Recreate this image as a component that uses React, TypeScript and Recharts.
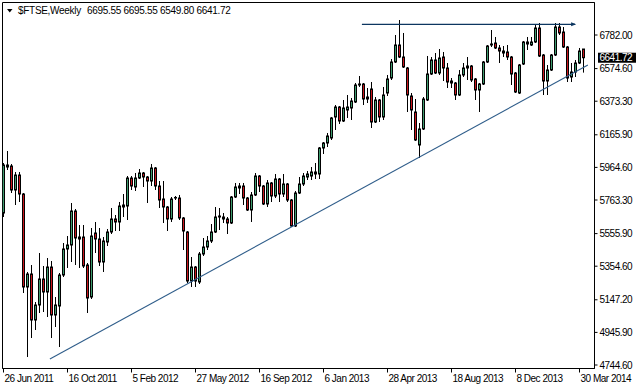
import React from "react";
import {
  ComposedChart,
  Bar,
  XAxis,
  YAxis,
  ReferenceLine,
  ReferenceArea,
  ReferenceDot,
} from "recharts";

// weekly FTSE candles, 26 Jun 2011 .. 6 Apr 2014
const opens = [
  5683.0, 5967.0, 5973.2, 5825.0, 5917.6, 5800.3, 5226.2, 5306.4, 5022.4, 5115.0,
  5275.6, 5195.3, 5349.6, 5053.3, 5108.9, 5300.2, 5460.8, 5485.5, 5695.4, 5522.5,
  5534.8, 5362.0, 5164.4, 5559.5, 5522.5, 5380.5, 5504.0, 5565.7, 5646.0, 5627.5,
  5720.1, 5726.2, 5899.1, 5843.6, 5899.1, 5930.0, 5905.3, 5880.6, 5960.9, 5849.7,
  5769.5, 5720.1, 5646.0, 5775.6, 5775.6, 5652.2, 5565.7, 5263.2, 5349.6, 5257.0,
  5429.9, 5473.1, 5510.2, 5565.7, 5658.3, 5658.3, 5646.0, 5621.3, 5781.8, 5837.4,
  5849.7, 5775.6, 5701.6, 5794.2, 5911.5, 5849.7, 5738.6, 5868.3, 5788.0, 5892.9,
  5800.3, 5862.1, 5763.3, 5602.8, 5806.5, 5862.1, 5905.3, 5911.5, 5936.2, 5923.8,
  6084.4, 6115.2, 6146.1, 6275.8, 6337.5, 6251.1, 6319.0, 6331.3, 6368.4, 6473.3,
  6479.5, 6386.9, 6448.6, 6244.9, 6380.7, 6275.8, 6423.9, 6516.5, 6615.3, 6720.3,
  6646.2, 6578.3, 6405.4, 6306.6, 6102.9, 6201.7, 6380.7, 6541.2, 6627.7, 6547.4,
  6646.2, 6578.3, 6498.0, 6485.7, 6411.6, 6535.1, 6578.3, 6590.6, 6510.4, 6442.5,
  6479.5, 6615.3, 6720.3, 6732.6, 6701.8, 6683.2, 6677.1, 6646.2, 6547.4, 6423.9,
  6603.0, 6738.8, 6720.3, 6738.8, 6825.2, 6658.5, 6498.0, 6565.9, 6658.5, 6831.4,
  6800.5, 6707.9, 6522.7, 6553.6, 6609.1, 6695.55,
];

const highs = [
  5991.7, 6065.8, 5985.6, 5936.2, 5936.2, 5806.5, 5318.8, 5362.0, 5133.5, 5436.1,
  5355.8, 5405.2, 5386.7, 5164.4, 5312.6, 5497.8, 5541.0, 5744.8, 5707.7, 5608.9,
  5608.9, 5374.3, 5590.4, 5627.5, 5590.4, 5534.8, 5584.2, 5713.9, 5670.7, 5750.9,
  5800.3, 5911.5, 5911.5, 5930.0, 5954.7, 5936.2, 5911.5, 5985.6, 5967.0, 5880.6,
  5880.6, 5726.2, 5781.8, 5788.0, 5794.2, 5658.3, 5571.9, 5411.4, 5355.8, 5442.2,
  5528.7, 5541.0, 5615.1, 5720.1, 5713.9, 5683.0, 5658.3, 5788.0, 5868.3, 5868.3,
  5868.3, 5781.8, 5812.7, 5930.0, 5917.6, 5855.9, 5886.8, 5874.4, 5923.8, 5899.1,
  5923.8, 5868.3, 5769.5, 5818.9, 5905.3, 5930.0, 5942.3, 5967.0, 5991.7, 6090.5,
  6121.4, 6177.0, 6275.8, 6349.8, 6343.7, 6380.7, 6411.6, 6393.1, 6485.7, 6528.9,
  6485.7, 6454.8, 6491.8, 6399.2, 6386.9, 6461.0, 6535.1, 6633.8, 6782.0, 6874.6,
  6794.4, 6584.5, 6423.9, 6386.9, 6238.7, 6399.2, 6652.4, 6646.2, 6670.9, 6695.6,
  6677.1, 6609.1, 6516.5, 6491.8, 6565.9, 6609.1, 6646.2, 6596.8, 6516.5, 6485.7,
  6621.5, 6720.3, 6812.9, 6769.7, 6720.3, 6714.1, 6720.3, 6652.4, 6553.6, 6603.0,
  6745.0, 6769.7, 6769.7, 6849.9, 6856.1, 6664.7, 6596.8, 6664.7, 6856.1, 6856.1,
  6831.4, 6714.1, 6609.1, 6627.7, 6701.8, 6695.55,
];

const lows = [
  5658.3, 5948.5, 5806.5, 5732.4, 5750.9, 5189.1, 4793.9, 4911.3, 4960.7, 5065.6,
  5071.8, 5040.9, 4911.3, 4979.2, 4855.7, 5287.9, 5343.5, 5380.5, 5362.0, 5343.5,
  5343.5, 5065.6, 5152.1, 5436.1, 5355.8, 5318.8, 5479.3, 5553.4, 5571.9, 5571.9,
  5658.3, 5639.8, 5825.0, 5818.9, 5892.9, 5843.6, 5744.8, 5849.7, 5825.0, 5713.9,
  5621.3, 5571.9, 5627.5, 5763.3, 5639.8, 5454.6, 5250.9, 5226.2, 5226.2, 5244.7,
  5417.5, 5454.6, 5497.8, 5559.5, 5578.1, 5621.3, 5553.4, 5615.1, 5775.6, 5800.3,
  5732.4, 5695.4, 5627.5, 5788.0, 5812.7, 5732.4, 5720.1, 5750.9, 5775.6, 5750.9,
  5781.8, 5750.9, 5596.6, 5596.6, 5800.3, 5849.7, 5886.8, 5886.8, 5892.9, 5892.9,
  6047.3, 6090.5, 6133.8, 6195.5, 6232.5, 6244.9, 6269.6, 6257.2, 6362.2, 6461.0,
  6349.8, 6362.2, 6207.8, 6238.7, 6244.9, 6257.2, 6405.4, 6504.2, 6609.1, 6640.0,
  6578.3, 6306.6, 6195.5, 6127.6, 6022.6, 6195.5, 6374.5, 6535.1, 6541.2, 6535.1,
  6498.0, 6454.8, 6454.8, 6380.7, 6405.4, 6522.7, 6504.2, 6491.8, 6380.7, 6306.6,
  6473.3, 6609.1, 6707.9, 6695.6, 6609.1, 6646.2, 6627.7, 6473.3, 6423.9, 6417.8,
  6596.8, 6689.4, 6714.1, 6732.6, 6646.2, 6411.6, 6411.6, 6559.8, 6652.4, 6782.0,
  6701.8, 6491.8, 6491.8, 6522.7, 6603.0, 6549.8,
];

const closes = [
  5979.4, 5979.4, 5825.0, 5917.6, 5800.3, 5226.2, 5306.4, 5022.4, 5115.0, 5275.6,
  5195.3, 5349.6, 5053.3, 5115.0, 5300.2, 5460.8, 5485.5, 5695.4, 5528.7, 5534.8,
  5355.8, 5158.2, 5541.0, 5522.5, 5380.5, 5510.2, 5565.7, 5646.0, 5627.5, 5726.2,
  5732.4, 5899.1, 5849.7, 5899.1, 5930.0, 5905.3, 5880.6, 5960.9, 5849.7, 5763.3,
  5720.1, 5646.0, 5769.5, 5779.0, 5652.2, 5571.9, 5263.2, 5349.6, 5263.2, 5429.9,
  5473.1, 5510.2, 5565.7, 5658.3, 5664.5, 5646.0, 5621.3, 5781.8, 5843.6, 5849.7,
  5775.6, 5701.6, 5794.2, 5911.5, 5849.7, 5738.6, 5868.3, 5788.0, 5892.9, 5800.3,
  5862.1, 5763.3, 5602.8, 5806.5, 5862.1, 5911.5, 5923.8, 5936.2, 5923.8, 6084.4,
  6115.2, 6158.5, 6269.6, 6337.5, 6251.1, 6331.3, 6337.5, 6374.5, 6473.3, 6479.5,
  6386.9, 6399.2, 6244.9, 6380.7, 6275.8, 6411.6, 6510.4, 6615.3, 6720.3, 6646.2,
  6584.5, 6411.6, 6319.0, 6133.8, 6201.7, 6386.9, 6541.2, 6627.7, 6547.4, 6640.0,
  6578.3, 6491.8, 6485.7, 6411.6, 6535.1, 6578.3, 6590.6, 6504.2, 6442.5, 6479.5,
  6615.3, 6714.1, 6726.5, 6701.8, 6683.2, 6670.9, 6646.2, 6541.2, 6430.1, 6596.8,
  6738.8, 6726.5, 6738.8, 6825.2, 6652.4, 6498.0, 6565.9, 6658.5, 6831.4, 6794.4,
  6707.9, 6516.5, 6553.6, 6609.1, 6683.2, 6641.72,
];

// one label every 16 weeks
const dateLabels = [
  "26 Jun 2011", "16 Oct 2011", "5 Feb 2012", "27 May 2012", "16 Sep 2012",
  "6 Jan 2013", "28 Apr 2013", "18 Aug 2013", "8 Dec 2013", "30 Mar 2014",
];
const dateTickIdx = [0, 16, 32, 48, 64, 80, 96, 112, 128, 144];

const priceTicks = [
  6782.0, 6574.6, 6373.3, 6165.9, 5964.6, 5763.3, 5555.9, 5354.6, 5147.2, 4945.9, 4744.6,
];

const lastPrice = 6641.72;
const supportLine = [
  { x: 11.6, y: 4781.6 },
  { x: 146.1, y: 6596.8 },
];
const resistanceLine = [
  { x: 89.6, y: 6848 },
  { x: 142.9, y: 6848 },
];

const UP = "#3d9a6d";
const DOWN = "#c8161d";
const FONT = "'Liberation Sans', Arial, sans-serif";

const data = opens.map((o, i) => ({
  i,
  open: o,
  high: highs[i],
  low: lows[i],
  close: closes[i],
}));

const Candle = (props: any) => {
  const { x, y, width, height, payload } = props;
  const { open, high, low, close } = payload;
  const top = Math.min(y, y + height);
  const h = Math.abs(height);
  const cx = Math.round(x + width / 2 - 0.5) + 0.5;
  const toY = (v: number) => (high === low ? top : top + ((high - v) / (high - low)) * h);
  const bTop = toY(Math.max(open, close));
  const bBot = toY(Math.min(open, close));
  return (
    <g>
      <line x1={cx} x2={cx} y1={top} y2={top + h} stroke="#000" strokeWidth={1} />
      <rect
        x={cx - 1}
        y={bTop}
        width={2}
        height={Math.max(bBot - bTop, 0)}
        fill={close >= open ? UP : DOWN}
        stroke="#000"
        strokeWidth={1}
      />
    </g>
  );
};

const XTick = (props: any) => {
  const { x, y, payload } = props;
  const k = dateTickIdx.indexOf(payload.value);
  return (
    <g>
      <line x1={x} x2={x} y1={y} y2={y + 4} stroke="#000" />
      <text x={x + 1} y={y + 13.5} fill="#000" fontSize={10} fontFamily={FONT} letterSpacing={-0.5}>
        {k >= 0 ? dateLabels[k] : ""}
      </text>
    </g>
  );
};

const YTick = (props: any) => {
  const { x, y, payload } = props;
  return (
    <text x={x} y={y + 3.5} fill="#000" fontSize={10} fontFamily={FONT} letterSpacing={-0.5}>
      {payload.value.toFixed(2)}
    </text>
  );
};

const PriceTag = (props: any) => {
  const vb = props.viewBox;
  const x = vb.x + vb.width + 3.5;
  const y = vb.y;
  return (
    <g>
      <rect x={x} y={y - 5} width={38} height={10} fill="#000" />
      <text x={x + 1.5} y={y + 3.5} fill="#fff" fontSize={10} fontFamily={FONT} letterSpacing={-0.5}>
        {lastPrice.toFixed(2)}
      </text>
    </g>
  );
};

const ArrowHead = (props: any) => {
  const { cx, cy } = props;
  return <polygon points={`${cx - 4},${cy - 2} ${cx + 1},${cy} ${cx - 4},${cy + 2}`} fill="#0c3660" />;
};

export default function App() {
  return (
    <div style={{ position: "absolute", left: 0, top: 0, width: 637, height: 387, background: "#fff" }}>
      <ComposedChart
        width={637}
        height={387}
        data={data}
        margin={{ top: 2.5, right: 0, bottom: 0.5, left: 2.5 }}
      >
        <XAxis
          type="number"
          dataKey="i"
          domain={[-0.25, 147.75]}
          allowDataOverflow
          ticks={dateTickIdx}
          interval={0}
          tickLine={false}
          tickSize={0}
          tickMargin={0}
          axisLine={{ stroke: "#000" }}
          tick={<XTick />}
          height={18}
        />
        <YAxis
          orientation="right"
          type="number"
          domain={[4723.0, 6982.7]}
          allowDataOverflow
          ticks={priceTicks}
          interval={0}
          tickSize={3}
          tickMargin={2}
          tickLine={{ stroke: "#000" }}
          axisLine={{ stroke: "#000" }}
          tick={<YTick />}
          width={42.5}
        />
        <ReferenceArea
          x1={-0.25}
          x2={147.75}
          y1={4723.0}
          y2={6982.7}
          fill="none"
          stroke="#000"
          strokeWidth={1}
          ifOverflow="visible"
        />
        <Bar
          dataKey={(d: any) => [d.low, d.high]}
          barSize={3}
          shape={<Candle />}
          isAnimationActive={false}
        />
        <ReferenceLine segment={supportLine} stroke="#2f5d8a" strokeWidth={1.1} ifOverflow="visible" />
        <ReferenceLine segment={resistanceLine} stroke="#0c3660" strokeWidth={1.2} ifOverflow="visible" />
        <ReferenceDot x={resistanceLine[1].x} y={resistanceLine[1].y} shape={<ArrowHead />} ifOverflow="visible" />
        <ReferenceLine y={lastPrice} stroke="none" label={PriceTag} ifOverflow="visible" />
      </ComposedChart>
      <svg width={637} height={20} style={{ position: "absolute", left: 0, top: 0 }}>
        <polygon points="7,9 12.5,9 9.75,12.5" fill="#000" />
        <text x={18} y={14} fill="#000" fontSize={10} fontFamily={FONT} letterSpacing={-0.3}>
          $FTSE,Weekly
        </text>
        <text x={87} y={14} fill="#000" fontSize={10} fontFamily={FONT} letterSpacing={-0.3}>
          6695.55 6695.55 6549.80 6641.72
        </text>
      </svg>
    </div>
  );
}
